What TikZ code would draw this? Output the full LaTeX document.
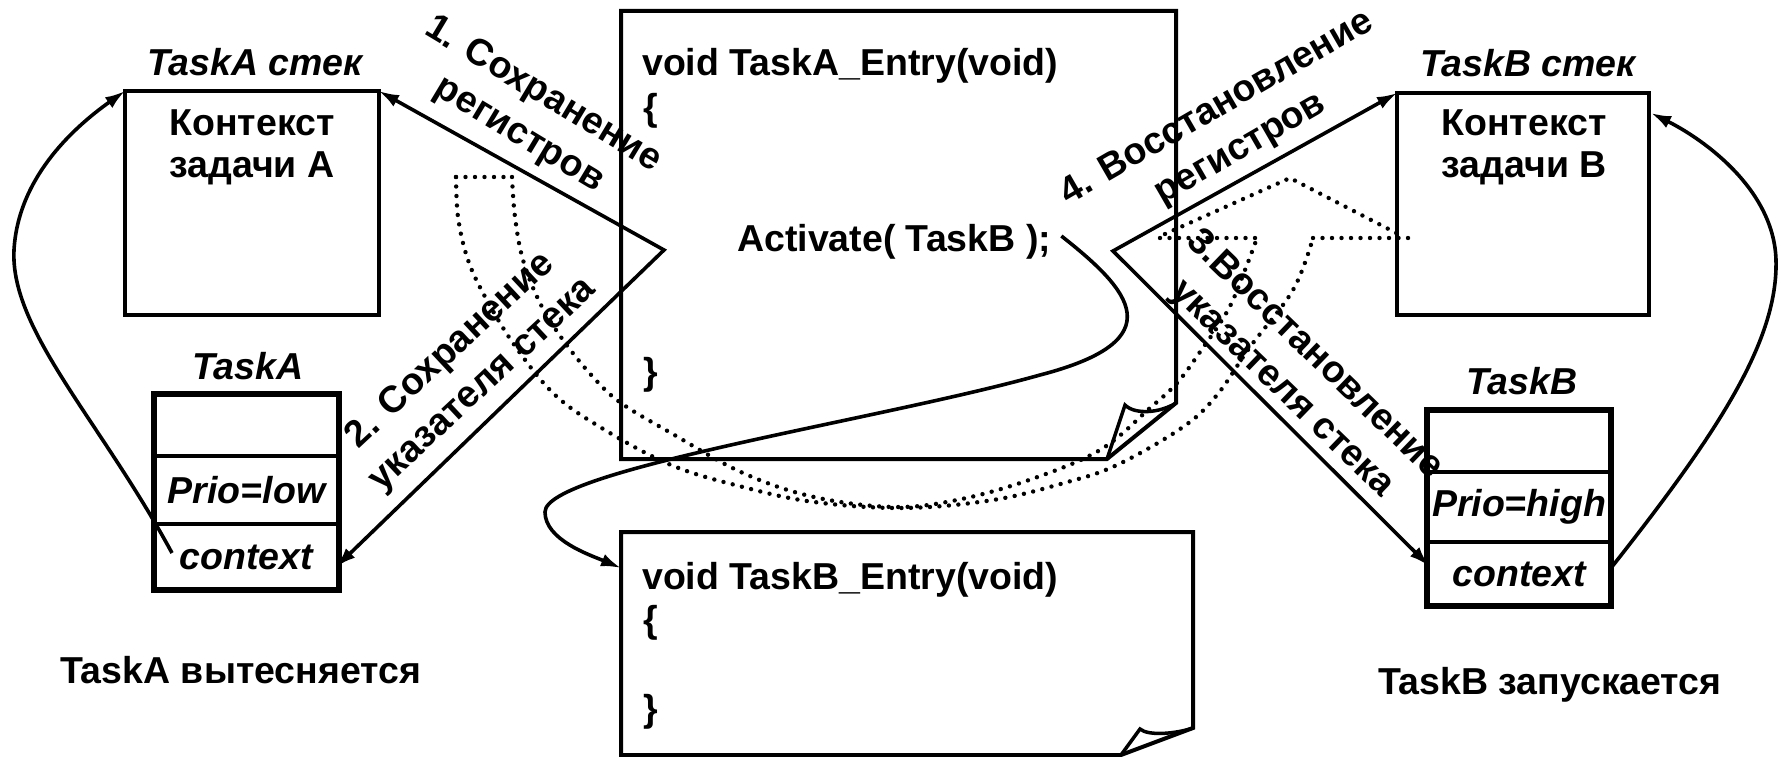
\documentclass[tikz,border=0pt]{standalone}
\usepackage{fontspec}
\setmainfont{Liberation Sans}
\usetikzlibrary{arrows.meta,calc}
\begin{document}
\begin{tikzpicture}[x=1pt,y=-1pt,
  ln/.style={line width=4pt, line join=miter},
  arr/.style={line width=3.6pt, -{Latex[length=20pt,width=13pt]}},
  dotline/.style={line width=4.4pt, dash pattern=on 0pt off 9.5pt, line cap=round},
  lbl/.style={font=\fontsize{37.5}{42}\selectfont\bfseries, align=center, inner sep=0pt},
  rlbl/.style={font=\fontsize{37.5}{47}\selectfont\bfseries, align=center, inner sep=0pt},
  ital/.style={font=\fontsize{37.5}{42}\selectfont\bfseries\itshape, inner sep=0pt},
  codetxt/.style={font=\fontsize{37.5}{42}\selectfont\bfseries, inner sep=0pt, anchor=west},
  cell/.style={minimum width=185pt, inner sep=0pt, outer sep=0pt, font=\fontsize{37.5}{42}\selectfont\bfseries\itshape},
  stackbox/.style={draw, line width=4pt, inner sep=0pt, outer sep=0pt}
]
\useasboundingbox (0,0) rectangle (1781,757);
\fill[white] (0,0) rectangle (1781,757);

% ---------- dotted stack-pointer curves ----------
\draw[dotline] plot[smooth, tension=0.6] coordinates {(456,177) (458,217) (467,257) (483,293) (513,343) (553,393) (600,427) (671,465) (743,487) (814,502) (904,508) (993,500) (1064,483) (1117,465) (1183,427) (1217,395) (1250,347) (1293,290) (1313,238)};
\draw[dotline] plot[smooth, tension=0.6] coordinates {(512,177) (515,217) (523,260) (540,303) (563,340) (593,377) (621,403) (671,433) (743,473) (814,497) (893,507) (957,500) (1029,480) (1100,450) (1150,408) (1177,383) (1200,352) (1228,310) (1245,270) (1257,238)};
\draw[dotline] (456,177) -- (512,177);
\draw[dotline] (1160,238) -- (1257,238);
\draw[dotline] (1313,238) -- (1410,238);
\draw[dotline] (1165,234) -- (1290,178) -- (1402,236);

% ---------- code box A ----------
\coordinate (cA1) at (621,11);
\coordinate (cA2) at (1176,11);
\coordinate (cA3) at (1176,403);
\coordinate (cA4) at (1107,459);
\coordinate (cA5) at (621,459);
\coordinate (cAc) at (1125,405);
\draw[ln] (cA1) -- (cA2) -- (cA3) -- (cA4) -- (cA5) -- cycle;
\draw[ln, line width=3.5pt] (cA4) -- (cAc) .. controls (1135,415) and (1160,413) .. (cA3);
\node[codetxt] (voidA) at (642,66) {void TaskA\_Entry(void)};
\node[codetxt] (obrA) at (643,111) {\{};
\node[codetxt] (act) at (737,242) {Activate( TaskB );};
\node[codetxt] (cbrA) at (643,375) {\}};

% ---------- code box B ----------
\coordinate (cB1) at (621,532);
\coordinate (cB2) at (1193,532);
\coordinate (cB3) at (1193,728);
\coordinate (cB4) at (1121,755);
\coordinate (cB5) at (621,755);
\coordinate (cBc) at (1140,729);
\draw[ln] (cB1) -- (cB2) -- (cB3) -- (cB4) -- (cB5) -- cycle;
\draw[ln, line width=3.5pt] (cB4) -- (cBc) .. controls (1148,736) and (1175,734) .. (cB3);
\node[codetxt] (voidB) at (642,580) {void TaskB\_Entry(void)};
\node[codetxt] (obrB) at (643,623) {\{};
\node[codetxt] (cbrB) at (643,712) {\}};
\coordinate (codeBin) at (621,568);

% ---------- stacks ----------
\node[ital] (stackAlbl) at (255,62) {TaskA стек};
\node[stackbox, minimum width=254pt, minimum height=224pt] (stackA) at (252,203) {};
\node[lbl] (ctxA) at (252,147) {Контекст\\задачи A};

\node[ital] (stackBlbl) at (1528,63) {TaskB стек};
\node[stackbox, minimum width=252pt, minimum height=222pt] (stackB) at (1523,204) {};
\node[lbl] (ctxB) at (1524,147) {Контекст\\задачи B};

% ---------- task tables ----------
\node[ital] (tAlbl) at (248,366) {TaskA};
\node[cell, minimum height=62pt] (tAtop) at (246.5,425) {};
\node[cell, minimum height=68pt] (tAprio) at (246.5,490) {Prio=low};
\node[cell, minimum height=66pt] (tActx) at (246.5,557) {context};
\draw[line width=5.5pt] (tAtop.north west) rectangle (tActx.south east);
\draw[line width=3.5pt] (tAprio.north west) -- (tAprio.north east);
\draw[line width=3.5pt] (tAprio.south west) -- (tAprio.south east);

\node[ital] (tBlbl) at (1522,381) {TaskB};
\node[cell, minimum width=184pt, minimum height=62pt] (tBtop) at (1519,441) {};
\node[cell, minimum width=184pt, minimum height=70pt] (tBprio) at (1519,507) {Prio=high};
\node[cell, minimum width=184pt, minimum height=64pt] (tBctx) at (1519,574) {context};
\draw[line width=5.5pt] (tBtop.north west) rectangle (tBctx.south east);
\draw[line width=3.5pt] (tBprio.north west) -- (tBprio.north east);
\draw[line width=3.5pt] (tBprio.south west) -- (tBprio.south east);

% ---------- bottom captions ----------
\node[lbl] (capA) at (241,670) {TaskA вытесняется};
\node[lbl] (capB) at (1550,685) {TaskB запускается};

% ---------- save / restore arrows ----------
\coordinate (P1) at (664,250);
\coordinate (P2) at (1113,251);
\draw[arr, {Latex[length=20pt,width=13pt]}-{Latex[length=20pt,width=13pt]}, line join=miter]
  (stackA.north east) -- (P1) -- ($(tActx.east)+(-3,10)$);
\draw[arr, {Latex[length=20pt,width=13pt]}-{Latex[length=20pt,width=13pt]}, line join=miter]
  (stackB.north west) -- (P2) -- ($(tBctx.west)+(2,-8)$);

\node[rlbl, rotate=-31] (l1) at (531,115) {1. Сохранение\\регистров};
\node[rlbl, rotate=43] (l2) at (467,368) {2. Сохранение\\указателя стека};
\node[rlbl, rotate=30] (l4) at (1229,129) {4. Восстановление\\регистров};
\node[rlbl, rotate=-44] (l3) at (1298,372) {3.Восстановление\\указателя стека};

% ---------- context loops ----------
\coordinate (loopA) at (172,553);
\draw[arr] (loopA) .. controls (100,420) and (10,330) .. (14,250)
  .. controls (18,180) and (70,130) .. (stackA.north west);
\draw[arr] ($(tBctx.east)+(0,-6)$) .. controls (1720,430) and (1778,340) .. (1776,260)
  .. controls (1774,190) and (1705,140) .. ($(stackB.north east)+(2,20)$);

% ---------- Activate -> TaskB_Entry ----------
\draw[arr] ($(act.east)+(10,-6)$) .. controls (1130,290) and (1175,340) .. (1040,375)
  .. controls (880,420) and (545,470) .. (545,512)
  .. controls (545,540) and (590,555) .. (codeBin);
\end{tikzpicture}
\end{document}
